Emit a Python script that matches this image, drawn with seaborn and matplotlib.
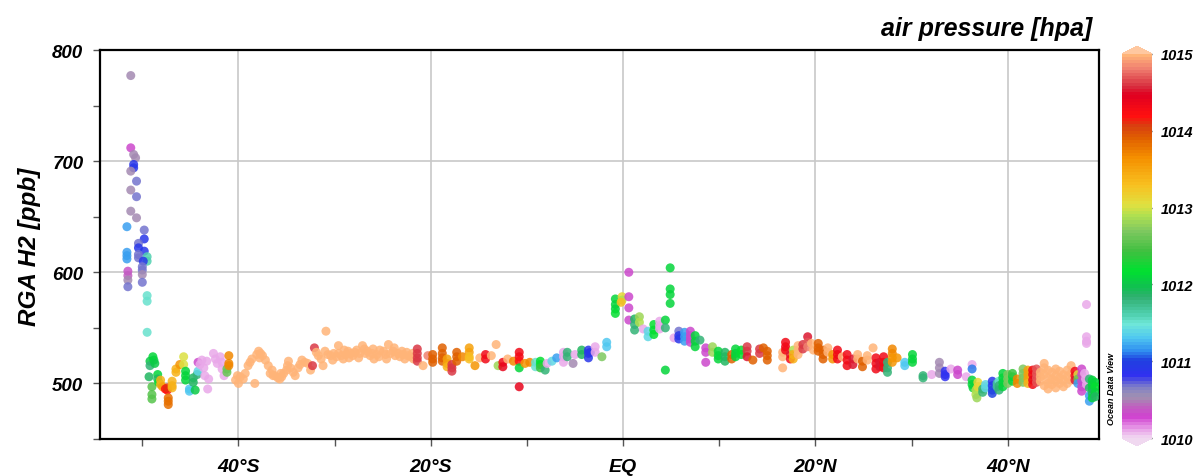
import numpy as np
import pandas as pd
import matplotlib
matplotlib.use("Agg")
import matplotlib.pyplot as plt
import seaborn as sns
from matplotlib.colors import LinearSegmentedColormap, Normalize
from matplotlib.cm import ScalarMappable
from matplotlib.ticker import MultipleLocator

# (latitude, H2 [ppb], air pressure [hpa]), south to north
spike = [
    (-51.2, 777, 1010.5), (-51.2, 712, 1010.3), (-50.9, 706, 1010.5), (-50.7, 703, 1010.5),
    (-50.9, 697, 1010.9), (-50.9, 694, 1010.9), (-51.2, 691, 1010.5), (-50.6, 682, 1010.7),
    (-51.2, 674, 1010.5), (-50.6, 668, 1010.7), (-51.2, 655, 1010.5), (-50.6, 649, 1010.5),
    (-51.6, 641, 1011.2), (-49.8, 638, 1010.7), (-49.8, 630, 1010.9), (-50.4, 626, 1010.7),
    (-50.4, 622, 1010.9), (-49.8, 619, 1010.9), (-50.4, 616, 1010.7), (-50.4, 613, 1010.7),
    (-51.6, 618, 1011.2), (-51.6, 615, 1011.2), (-51.6, 612, 1011.2), (-49.5, 614, 1011.6),
    (-49.5, 610, 1011.6), (-49.9, 610, 1010.9), (-50.0, 605, 1010.7), (-50.0, 602, 1010.7),
    (-51.5, 601, 1010.35), (-51.5, 597, 1010.4), (-51.5, 593, 1010.5), (-50.0, 598, 1010.5),
    (-51.5, 587, 1010.7), (-50.0, 591, 1010.7), (-49.5, 579, 1011.5), (-49.5, 574, 1011.5),
    (-49.5, 546, 1011.5),
]

south_low = [
    (-49.2, 520, 1012.0), (-49.2, 516, 1011.8), (-48.9, 524, 1012.1), (-48.8, 521, 1012.1),
    (-48.7, 518, 1012.0), (-49.3, 506, 1011.9), (-49.0, 497, 1012.5), (-49.0, 490, 1012.5),
    (-49.0, 486, 1012.5), (-48.4, 508, 1012.1), (-48.4, 504, 1011.9), (-48.3, 501, 1012.2),
    (-48.1, 503, 1013.4), (-48.1, 499, 1013.4), (-47.9, 497, 1013.5), (-47.6, 495, 1014.2),
    (-47.4, 494, 1014.2), (-47.4, 496, 1014.1), (-47.3, 487, 1013.8), (-47.3, 484, 1013.8),
    (-47.3, 481, 1013.8), (-46.9, 502, 1013.4), (-46.9, 498, 1013.4), (-46.9, 496, 1013.4),
    (-46.5, 513, 1013.4), (-46.5, 510, 1013.4), (-46.1, 517, 1013.6), (-45.7, 524, 1013.0),
    (-45.7, 517, 1013.0), (-45.5, 511, 1012.1), (-45.5, 507, 1012.1), (-45.5, 503, 1012.1),
    (-45.1, 493, 1011.3), (-45.1, 495, 1011.3), (-44.7, 505, 1011.9), (-44.7, 501, 1011.9),
    (-44.5, 494, 1012.0), (-44.3, 508, 1011.8), (-44.2, 511, 1011.4), (-44.2, 519, 1010.3),
    (-44.0, 517, 1010.1), (-43.8, 521, 1010.1), (-43.6, 514, 1010.1), (-43.5, 507, 1010.1),
    (-43.3, 520, 1010.1), (-43.2, 495, 1010.1), (-43.1, 504, 1010.1), (-42.6, 527, 1010.1),
    (-42.4, 522, 1010.1), (-42.2, 518, 1010.1), (-41.9, 524, 1010.1), (-41.7, 519, 1010.1),
    (-41.7, 513, 1010.1), (-41.5, 507, 1010.1), (-41.2, 510, 1012.6), (-41.2, 513, 1012.6),
    (-41.0, 525, 1013.7), (-41.0, 518, 1013.7), (-41.0, 516, 1013.7),
]

wave = [
    (-40.3, 503, 1015), (-40.0, 500, 1015), (-39.8, 506, 1015), (-40.1, 507, 1015),
    (-39.5, 504, 1015), (-39.3, 509, 1015), (-39.0, 516, 1015), (-38.8, 519, 1015),
    (-38.6, 522, 1015), (-38.3, 500, 1015), (-38.1, 526, 1015), (-37.9, 529, 1015),
    (-37.7, 527, 1015), (-37.8, 523, 1015), (-37.5, 525, 1015), (-37.2, 521, 1015),
    (-36.9, 516, 1015), (-36.7, 509, 1015), (-36.5, 512, 1015), (-36.4, 507, 1015),
    (-36.2, 507, 1015), (-35.9, 505, 1015), (-35.7, 504, 1015), (-35.6, 509, 1015),
    (-35.5, 506, 1015), (-35.3, 509, 1015), (-35.0, 512, 1015), (-34.9, 516, 1015),
    (-34.8, 520, 1015), (-34.6, 514, 1015), (-34.3, 510, 1015), (-34.1, 507, 1015),
    (-33.8, 514, 1015), (-33.6, 517, 1015), (-33.4, 521, 1015), (-33.1, 519, 1015),
    (-32.8, 518, 1015), (-32.5, 512, 1015), (-32.3, 516, 1014.6), (-32.1, 532, 1014.6),
    (-31.9, 528, 1015), (-31.7, 525, 1015), (-31.4, 522, 1015), (-31.2, 516, 1015),
    (-30.9, 547, 1015), (-31.0, 529, 1015), (-30.7, 526, 1015), (-30.4, 525, 1015),
    (-30.2, 521, 1015), (-30.1, 527, 1015), (-29.8, 524, 1015), (-29.6, 534, 1015),
    (-29.6, 527, 1015), (-29.3, 525, 1015), (-29.1, 522, 1015), (-29.0, 530, 1015),
    (-28.8, 526, 1015), (-28.6, 529, 1015), (-28.5, 523, 1015), (-28.3, 527, 1015),
    (-28.1, 525, 1015), (-27.9, 528, 1015), (-27.7, 530, 1015), (-27.5, 523, 1015),
    (-27.4, 527, 1015), (-27.1, 534, 1015), (-26.9, 531, 1015), (-26.8, 527, 1015),
    (-26.6, 529, 1015), (-26.3, 525, 1015), (-26.1, 527, 1015), (-26.0, 531, 1015),
    (-25.9, 522, 1015), (-25.6, 526, 1015), (-25.4, 524, 1015), (-25.3, 530, 1015),
    (-24.9, 529, 1015), (-24.7, 526, 1015), (-24.6, 522, 1015), (-24.4, 535, 1015),
    (-24.2, 527, 1015), (-23.9, 529, 1015), (-23.8, 532, 1015), (-23.7, 525, 1015),
    (-23.4, 527, 1015), (-23.2, 524, 1015), (-23.0, 529, 1015), (-22.9, 526, 1015),
    (-22.7, 522, 1015), (-22.5, 528, 1015), (-22.4, 525, 1015), (-22.1, 524, 1015),
    (-21.9, 527, 1015), (-21.8, 522, 1015), (-21.4, 531, 1014.6), (-21.4, 527, 1014.6),
    (-21.4, 523, 1014.6), (-21.4, 520, 1014.6), (-20.8, 516, 1015), (-20.3, 525, 1014.8),
]

mid_south = [
    (-19.8, 526, 1013.9), (-19.8, 522, 1013.9), (-19.8, 519, 1013.9), (-18.8, 532, 1013.9),
    (-18.8, 527, 1013.9), (-18.8, 523, 1013.9), (-18.8, 520, 1013.9), (-18.3, 522, 1013.5),
    (-18.3, 518, 1013.5), (-18.3, 515, 1013.4), (-17.8, 517, 1014.6), (-17.8, 514, 1014.6),
    (-17.8, 511, 1014.6), (-17.3, 528, 1013.9), (-17.3, 524, 1013.9), (-17.3, 520, 1013.9),
    (-16.7, 524, 1013.7), (-16.0, 532, 1013.5), (-16.0, 528, 1013.5), (-16.0, 524, 1013.3),
    (-16.0, 522, 1013.3), (-15.4, 516, 1013.6), (-14.9, 523, 1015), (-14.3, 526, 1014.3),
    (-14.3, 522, 1014.3), (-13.7, 525, 1015), (-13.2, 535, 1015), (-13.0, 516, 1012.8),
    (-12.5, 519, 1014.3), (-12.5, 515, 1014.4), (-12.0, 522, 1015), (-11.4, 520, 1013.7),
    (-10.8, 528, 1014.3), (-10.8, 524, 1014.3), (-10.8, 520, 1014.2), (-10.8, 514, 1012.1),
    (-10.8, 497, 1014.4), (-10.2, 518, 1013.6), (-9.7, 519, 1013.7), (-9.1, 519, 1011.5),
    (-9.1, 515, 1011.5), (-8.6, 520, 1012.2), (-8.6, 517, 1012.2), (-8.6, 514, 1012.4),
    (-8.1, 512, 1011.8), (-7.9, 518, 1010.1), (-7.4, 520, 1011.4), (-6.9, 523, 1011.2),
    (-6.2, 528, 1010.1), (-6.2, 524, 1010.1), (-6.2, 519, 1010.1), (-5.8, 528, 1011.8),
    (-5.8, 524, 1011.8), (-5.2, 518, 1010.5), (-5.0, 526, 1010.1), (-4.3, 530, 1011.9),
    (-4.3, 526, 1011.9), (-3.6, 530, 1010.9), (-3.6, 527, 1010.9), (-3.6, 523, 1010.9),
    (-3.4, 528, 1010.9), (-2.9, 533, 1010.1), (-2.9, 528, 1010.1), (-2.2, 524, 1012.7),
    (-1.7, 537, 1011.3), (-1.7, 533, 1011.3),
]

equator = [
    (-0.8, 576, 1012.1), (-0.8, 571, 1012.1), (-0.8, 567, 1012.1), (-0.8, 563, 1012.2),
    (-0.1, 578, 1013.1), (-0.1, 575, 1012.9), (-0.2, 573, 1013.3), (0.6, 600, 1010.3),
    (0.6, 578, 1010.3), (0.6, 568, 1010.3), (0.6, 557, 1010.3), (1.2, 558, 1011.9),
    (1.2, 553, 1011.8), (1.2, 548, 1011.8), (1.7, 560, 1012.8), (1.7, 555, 1012.9),
    (2.1, 549, 1010.1), (2.6, 547, 1011.4), (2.6, 542, 1011.4), (3.2, 553, 1012.2),
    (3.2, 548, 1012.2), (3.2, 544, 1012.2), (3.8, 556, 1010.1), (3.8, 552, 1010.1),
    (3.8, 549, 1010.1), (4.4, 557, 1012.1), (4.4, 550, 1011.8), (4.4, 512, 1012.1),
    (4.9, 604, 1012.1), (4.9, 585, 1012.1), (4.9, 580, 1012.1), (4.9, 572, 1012.1),
    (5.3, 541, 1010.1), (5.8, 547, 1010.7), (5.8, 543, 1010.9), (5.8, 540, 1010.9),
    (6.4, 546, 1011.2), (6.4, 542, 1011.2), (6.4, 538, 1011.2), (7.0, 547, 1010.3),
    (7.0, 543, 1010.3), (7.0, 540, 1010.3), (7.0, 537, 1010.3), (7.5, 543, 1012.1),
    (7.5, 538, 1012.1), (7.5, 533, 1012.1), (8.0, 539, 1011.8), (8.6, 532, 1010.3),
    (8.6, 528, 1010.3), (8.6, 519, 1010.3), (9.3, 533, 1012.8), (9.3, 528, 1012.8),
    (9.9, 529, 1012.1), (9.9, 525, 1012.1), (9.9, 522, 1012.1), (10.6, 528, 1011.9),
    (10.6, 524, 1011.9), (10.6, 520, 1011.9), (11.3, 526, 1013.9), (11.3, 522, 1013.9),
    (11.7, 531, 1012.1), (11.7, 527, 1012.1), (11.7, 524, 1012.1), (12.3, 530, 1012.2),
    (12.3, 526, 1012.2), (12.9, 533, 1014.6), (12.9, 529, 1014.6), (12.9, 524, 1014.5),
    (13.5, 521, 1013.9), (14.2, 531, 1014.6), (14.2, 527, 1014.6), (14.6, 532, 1013.9),
    (15.0, 529, 1013.9), (15.0, 525, 1013.9), (15.0, 521, 1013.9),
]

north = [
    (16.6, 528, 1015), (16.6, 524, 1015), (16.6, 514, 1015), (16.9, 537, 1014.3),
    (16.9, 533, 1014.3), (16.9, 530, 1014.3), (17.4, 526, 1014.5), (17.4, 522, 1014.3),
    (17.7, 530, 1012.9), (17.7, 526, 1013.4), (17.7, 522, 1013.4), (18.2, 534, 1015),
    (18.2, 530, 1015), (18.2, 526, 1015), (18.7, 535, 1014.6), (18.7, 531, 1014.6),
    (19.2, 542, 1014.5), (19.2, 537, 1014.7), (19.2, 533, 1014.8), (19.6, 536, 1015),
    (19.8, 530, 1015), (20.3, 536, 1013.9), (20.3, 532, 1013.9), (20.3, 529, 1013.9),
    (20.8, 530, 1013.9), (20.8, 526, 1013.9), (20.8, 522, 1013.9), (21.3, 532, 1015),
    (21.3, 528, 1015), (21.8, 526, 1013.6), (21.8, 522, 1013.6), (22.3, 530, 1014.3),
    (22.3, 526, 1014.3), (22.3, 522, 1014.3), (22.8, 524, 1015), (23.3, 526, 1014.3),
    (23.3, 521, 1014.3), (23.3, 516, 1014.3), (23.9, 522, 1014.5), (23.9, 517, 1014.5),
    (24.4, 526, 1015), (24.4, 522, 1015), (24.9, 520, 1013.9), (24.9, 515, 1013.9),
    (25.4, 525, 1015), (25.4, 521, 1015), (26.0, 532, 1015), (26.3, 523, 1014.3),
    (26.3, 518, 1014.3), (26.3, 513, 1014.3), (26.7, 519, 1014.5), (26.7, 515, 1014.5),
    (27.1, 524, 1014.3), (27.1, 519, 1014.3), (27.1, 514, 1014.3), (27.5, 519, 1011.8),
    (27.5, 514, 1011.8), (27.5, 510, 1011.8), (28.0, 531, 1013.7), (28.0, 527, 1013.7),
    (28.0, 523, 1013.6), (28.0, 519, 1013.6), (28.5, 523, 1013.6), (29.3, 519, 1011.3),
    (29.3, 516, 1011.3), (30.1, 526, 1012.1), (30.1, 522, 1012.1), (30.1, 519, 1012.1),
]

far_north = [
    (31.2, 507, 1011.8), (31.2, 505, 1011.8), (32.1, 508, 1010.1), (32.9, 519, 1010.5),
    (32.9, 514, 1010.5), (32.9, 509, 1010.5), (33.5, 511, 1010.8), (33.5, 508, 1010.8),
    (33.5, 506, 1010.8), (34.1, 513, 1010.1), (34.8, 512, 1010.3), (34.8, 508, 1010.3),
    (35.7, 506, 1010.1), (36.3, 517, 1010.1), (36.3, 513, 1011.1), (36.3, 503, 1012.1),
    (36.3, 499, 1012.1), (36.4, 496, 1012.1), (36.7, 494, 1012.9), (36.7, 490, 1012.9),
    (36.8, 487, 1012.8), (36.9, 501, 1013.1), (36.9, 497, 1013.1), (37.4, 492, 1011.8),
    (37.4, 495, 1011.8), (37.7, 499, 1011.4), (37.7, 496, 1011.4), (38.4, 502, 1010.9),
    (38.4, 498, 1010.9), (38.4, 494, 1011.0), (38.4, 491, 1011.0), (38.9, 497, 1011.7),
    (38.9, 500, 1011.7), (39.1, 502, 1011.5), (39.1, 498, 1011.8), (39.1, 494, 1011.8),
    (39.5, 509, 1012.1), (39.5, 505, 1012.1), (39.5, 501, 1012.1), (39.5, 497, 1012.1),
    (40.0, 508, 1012.7), (40.0, 504, 1012.7), (40.0, 500, 1012.7), (40.5, 506, 1012.1),
    (40.5, 502, 1012.1), (40.5, 509, 1012.4), (41.0, 504, 1013.7), (41.0, 500, 1013.7),
    (41.6, 513, 1012.7), (41.6, 509, 1012.7), (41.6, 505, 1012.7), (41.6, 501, 1012.7),
    (42.1, 512, 1013.5), (42.1, 508, 1013.5), (42.1, 504, 1013.5), (42.1, 500, 1013.4),
    (42.6, 512, 1014.3), (42.6, 508, 1014.3), (42.6, 503, 1014.4), (42.6, 499, 1014.3),
    (43.0, 513, 1014.7), (43.0, 509, 1014.7), (43.0, 505, 1014.7), (43.0, 501, 1014.7),
    (43.4, 510, 1015), (43.4, 506, 1015), (43.4, 502, 1015), (43.8, 518, 1015),
    (43.8, 514, 1015), (43.8, 508, 1015), (43.8, 498, 1015), (44.2, 512, 1015),
    (44.2, 505, 1015), (44.2, 500, 1015), (44.2, 495, 1015), (44.6, 510, 1015),
    (44.6, 504, 1015), (44.6, 499, 1015), (45.0, 513, 1015), (45.0, 507, 1015),
    (45.0, 502, 1015), (45.0, 496, 1015), (45.4, 511, 1015), (45.4, 505, 1015),
    (45.4, 500, 1015), (45.8, 508, 1015), (45.8, 503, 1015), (45.8, 497, 1015),
    (46.2, 512, 1015), (46.2, 506, 1015), (46.2, 500, 1015), (46.6, 516, 1015),
    (46.6, 509, 1015), (46.6, 503, 1015), (47.0, 511, 1014.3), (47.0, 507, 1014.3),
    (47.0, 503, 1014.5), (47.3, 508, 1013.0), (47.3, 504, 1012.6), (47.3, 500, 1011.2),
    (47.7, 513, 1010.3), (47.7, 508, 1010.3), (47.7, 502, 1010.3), (47.7, 497, 1010.3),
    (47.7, 493, 1010.3), (48.0, 509, 1010.1), (48.1, 504, 1010.1), (48.2, 499, 1010.1),
    (48.2, 571, 1010.1), (48.2, 542, 1010.1), (48.2, 538, 1010.1), (48.2, 536, 1010.1),
    (48.5, 504, 1011.8), (48.5, 496, 1011.9), (48.5, 489, 1011.2), (48.5, 484, 1011.2),
    (48.8, 503, 1012.1), (48.8, 499, 1012.1), (48.8, 495, 1012.0), (48.8, 491, 1011.9),
    (48.8, 487, 1012.1), (49.1, 501, 1012.1), (49.1, 497, 1012.2), (49.1, 492, 1012.1),
    (49.1, 488, 1011.9),
]

lat_ticks = [-40, -20, 0, 20, 40]
lat_labels = ["40°S", "20°S", "EQ", "20°N", "40°N"]
cbar_ticks = [1010, 1011, 1012, 1013, 1014, 1015]

# ODV-like rainbow palette
odv_colors = [
    (0.0, "#f0d0f0"), (0.02, "#e8a0e8"), (0.052, "#d040d0"), (0.078, "#c060c0"),
    (0.104, "#a090b0"), (0.13, "#8080c8"), (0.16, "#3030f0"), (0.2, "#2040e0"),
    (0.226, "#3090f0"), (0.26, "#50c8f0"), (0.296, "#70e8d8"), (0.32, "#50d0b0"),
    (0.366, "#30b070"), (0.392, "#10c050"), (0.434, "#00e030"), (0.486, "#40c040"),
    (0.54, "#80c860"), (0.58, "#b0e050"), (0.608, "#e0e040"), (0.66, "#f8c020"),
    (0.73, "#f59000"), (0.782, "#e06000"), (0.814, "#d84010"), (0.84, "#ff1010"),
    (0.896, "#e00020"), (0.92, "#d83040"), (0.966, "#f08070"), (1.0, "#ffb478"),
]
cmap = LinearSegmentedColormap.from_list("odv", odv_colors, N=120)
cmap.set_over("#ffc8a0")
cmap.set_under("#f0d8f0")
norm = Normalize(vmin=1010, vmax=1015)

df = pd.DataFrame(spike + south_low + wave + mid_south + equator + north + far_north,
                  columns=["lat", "h2", "pressure"])

sns.set_theme(style="white")
plt.rcParams["font.family"] = ["Liberation Sans", "DejaVu Sans"]
plt.rcParams["text.color"] = "black"
plt.rcParams["xtick.color"] = "black"
plt.rcParams["ytick.color"] = "black"
bi = dict(fontweight="bold", fontstyle="italic", color="black")

fig = plt.figure(figsize=(11.96, 4.77), dpi=100)
ax = fig.add_axes([100 / 1196, 1 - 440 / 477, 999 / 1196, 389 / 477])

ax.set_xticks(lat_ticks)
ax.set_yticks([500, 600, 700, 800])
ax.grid(True, color="#c8c8c8", linewidth=1.2)
ax.set_axisbelow(True)

sns.scatterplot(data=df, x="lat", y="h2", hue="pressure", palette=cmap, hue_norm=norm,
                s=42, linewidth=0, alpha=0.85, legend=False, ax=ax, zorder=3)

ax.set_xlim(-54.4, 49.5)
ax.set_ylim(450, 800)
ax.set_xticklabels(lat_labels, fontsize=14, **bi)
ax.set_yticklabels(["500", "600", "700", "800"], fontsize=13.5, **bi)
ax.xaxis.set_minor_locator(MultipleLocator(10))
ax.yaxis.set_minor_locator(MultipleLocator(50))
ax.tick_params(which="both", direction="out", length=5, width=1, color="#555555")
ax.tick_params(axis="x", which="major", pad=9)
ax.tick_params(axis="y", which="major", pad=7)
ax.tick_params(which="both", bottom=True, left=True)
ax.set_xlabel("")
ax.set_ylabel("")
for sp in ax.spines.values():
    sp.set_linewidth(1.6)
    sp.set_color("black")

fig.text(30 / 1196, 1 - 247 / 477, "RGA H2 [ppb]", rotation=90, ha="center", va="center",
         fontsize=17.5, **bi)
fig.text(1092 / 1196, 1 - 29 / 477, "air pressure [hpa]", ha="right", va="center",
         fontsize=18, **bi)
fig.text(1111 / 1196, 1 - 389 / 477, "Ocean Data View", rotation=90, ha="center", va="center",
         fontsize=6.5, **bi)

# colour bar
cax = fig.add_axes([1122 / 1196, 1 - 447 / 477, 30 / 1196, 400 / 477])
sm = ScalarMappable(norm=norm, cmap=cmap)
cbar = fig.colorbar(sm, cax=cax, extend="both", extendfrac=0.02, ticks=cbar_ticks)
cbar.outline.set_visible(False)
cbar.ax.tick_params(direction="in", length=4, width=1, color="#444444", pad=6)
cbar.ax.set_yticklabels([str(t) for t in cbar_ticks], fontsize=10.5, **bi)

fig.savefig("out.png", dpi=100)
